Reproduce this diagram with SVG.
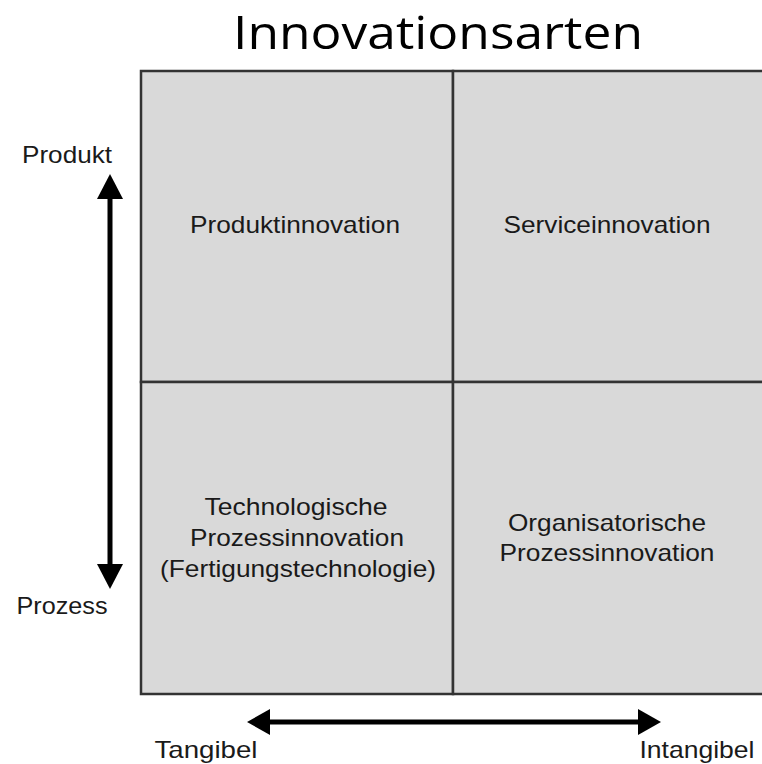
<svg xmlns="http://www.w3.org/2000/svg" width="762" height="764" viewBox="0 0 762 764">
<style>
.cell{fill:#d9d9d9;stroke:#333;stroke-width:2.5}
.lbl{font-family:"Liberation Sans",Arial,sans-serif;font-size:24px;fill:#1a1a1a;text-anchor:middle}
.ax{stroke:#000;stroke-width:5;fill:none}
.title{font-family:"Open Sans","Noto Sans",sans-serif;font-size:46px;fill:#000;text-anchor:middle}
</style>
<rect width="762" height="764" fill="#fff"/>
<text class="title" x="438" y="49" textLength="410" lengthAdjust="spacingAndGlyphs">Innovationsarten</text>
<g id="q1"><rect class="cell" x="141" y="71" width="312" height="311"/><text class="lbl" x="295" y="233" textLength="210" lengthAdjust="spacingAndGlyphs">Produktinnovation</text></g>
<g id="q2"><rect class="cell" x="453" y="71" width="320" height="311"/><text class="lbl" x="607" y="233" textLength="207" lengthAdjust="spacingAndGlyphs">Serviceinnovation</text></g>
<g id="q3"><rect class="cell" x="141" y="382" width="312" height="312"/><text class="lbl" x="296" y="515" textLength="183" lengthAdjust="spacingAndGlyphs">Technologische</text><text class="lbl" x="297" y="546" textLength="214" lengthAdjust="spacingAndGlyphs">Prozessinnovation</text><text class="lbl" x="298" y="577" textLength="276" lengthAdjust="spacingAndGlyphs">(Fertigungstechnologie)</text></g>
<g id="q4"><rect class="cell" x="453" y="382" width="320" height="312"/><text class="lbl" x="607" y="531" textLength="198" lengthAdjust="spacingAndGlyphs">Organisatorische</text><text class="lbl" x="607" y="561" textLength="215" lengthAdjust="spacingAndGlyphs">Prozessinnovation</text></g>
<g id="connectors">
<line class="ax" x1="110" y1="195" x2="110" y2="568"/>
<polygon points="110,174 97,199 123,199" fill="#000"/>
<polygon points="110,589 97,564 123,564" fill="#000"/>
<line class="ax" x1="268" y1="722" x2="640" y2="722"/>
<polygon points="247,722 270,709 270,735" fill="#000"/>
<polygon points="661,722 638,709 638,735" fill="#000"/>
</g>
<g id="axis-labels">
<text class="lbl" x="67" y="163" textLength="90" lengthAdjust="spacingAndGlyphs">Produkt</text>
<text class="lbl" x="62" y="614" textLength="91" lengthAdjust="spacingAndGlyphs">Prozess</text>
<text class="lbl" x="206" y="758" textLength="103" lengthAdjust="spacingAndGlyphs">Tangibel</text>
<text class="lbl" x="697" y="758" textLength="115" lengthAdjust="spacingAndGlyphs">Intangibel</text>
</g>
</svg>
